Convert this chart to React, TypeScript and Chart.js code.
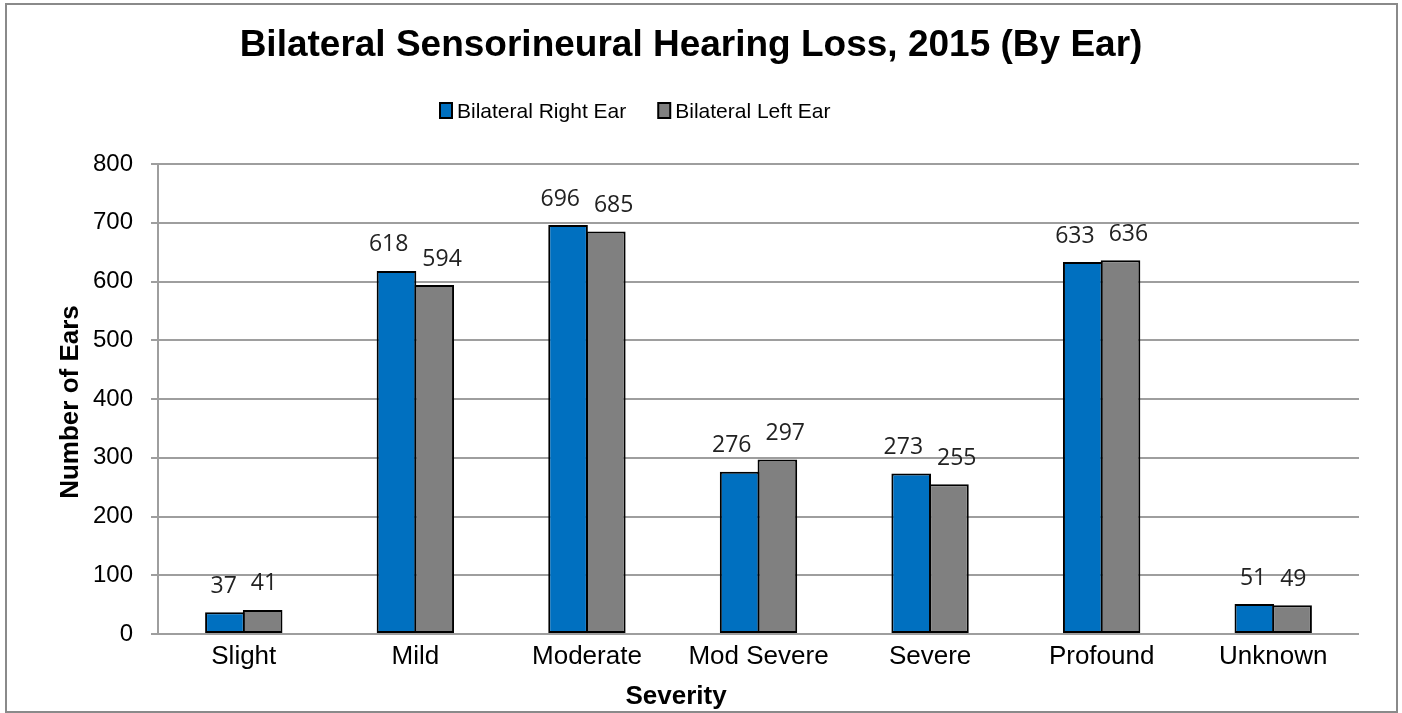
import React, { useEffect, useRef } from "react";
import { Chart, registerables } from "chart.js";

Chart.register(...registerables);

const chartTitle = "Bilateral Sensorineural Hearing Loss, 2015 (By Ear)";
const categories = ["Slight", "Mild", "Moderate", "Mod Severe", "Severe", "Profound", "Unknown"];
const seriesNames = ["Bilateral Right Ear", "Bilateral Left Ear"];
const rightEar = [37, 618, 696, 276, 273, 633, 51];
const leftEar = [41, 594, 685, 297, 255, 636, 49];
const seriesColors = ["#0070C0", "#808080"];
const yMin = 0;
const yMax = 800;
const yStep = 100;
const xTitle = "Severity";
const yTitle = "Number of Ears";

const SANS = "'Liberation Sans', Arial, sans-serif";
const LABEL_FONT = "'Open Sans', 'Noto Sans', sans-serif";

const decorations = {
  id: "decorations",
  afterDraw(chart: any) {
    const ctx = chart.ctx as CanvasRenderingContext2D;
    ctx.save();

    // Data labels, with a simple rule that spreads the two labels of a group apart
    ctx.font = `23px ${LABEL_FONT}`;
    ctx.fillStyle = "#222";
    ctx.textAlign = "center";
    ctx.textBaseline = "middle";
    const metaA = chart.getDatasetMeta(0);
    const metaB = chart.getDatasetMeta(1);
    const dsA = chart.data.datasets[0].data;
    const dsB = chart.data.datasets[1].data;
    const minGap = 14;
    metaA.data.forEach((elA: any, i: number) => {
      const elB = metaB.data[i];
      const tA = String(dsA[i]);
      const tB = String(dsB[i]);
      const wA = ctx.measureText(tA).width;
      const wB = ctx.measureText(tB).width;
      let xA = elA.x;
      let xB = elB.x;
      const gap = xB - wB / 2 - (xA + wA / 2);
      if (gap < minGap) {
        const push = (minGap - gap) / 2;
        xA -= push;
        xB += push;
      }
      ctx.fillText(tA, xA, elA.y - 26);
      ctx.fillText(tB, xB, elB.y - 26);
    });

    // Title
    ctx.font = `bold 37px ${SANS}`;
    ctx.fillStyle = "#000";
    ctx.textAlign = "center";
    ctx.textBaseline = "alphabetic";
    ctx.fillText(chartTitle, 691, 56);

    // Legend
    ctx.font = `21px ${SANS}`;
    ctx.textAlign = "left";
    let x = 440;
    seriesNames.forEach((name, i) => {
      ctx.fillStyle = seriesColors[i];
      ctx.fillRect(x, 103, 12, 15);
      ctx.strokeStyle = "#000";
      ctx.lineWidth = 2;
      ctx.strokeRect(x, 103, 12, 15);
      ctx.fillStyle = "#000";
      ctx.fillText(name, x + 17, 118);
      x += 17 + ctx.measureText(name).width + 32;
    });

    // Axis titles
    ctx.font = `bold 26px ${SANS}`;
    ctx.textAlign = "center";
    ctx.fillText(xTitle, 676, 704);
    ctx.translate(78, 402);
    ctx.rotate(-Math.PI / 2);
    ctx.fillText(yTitle, 0, 0);

    ctx.restore();
  },
};

export default function App() {
  const canvasRef = useRef<HTMLCanvasElement | null>(null);

  useEffect(() => {
    const canvas = canvasRef.current;
    if (!canvas) return;
    const gridColor = "#9e9e9e";
    const chart = new Chart(canvas, {
      type: "bar",
      data: {
        labels: categories,
        datasets: [
          {
            label: seriesNames[0],
            data: rightEar,
            backgroundColor: seriesColors[0],
            borderColor: "#000",
            borderWidth: 2,
            borderSkipped: false,
            categoryPercentage: 0.44,
            barPercentage: 1.05,
          },
          {
            label: seriesNames[1],
            data: leftEar,
            backgroundColor: seriesColors[1],
            borderColor: "#000",
            borderWidth: 2,
            borderSkipped: false,
            categoryPercentage: 0.44,
            barPercentage: 1.05,
          },
        ],
      },
      options: {
        responsive: false,
        animation: false,
        devicePixelRatio: 1,
        layout: { padding: { top: 164, right: 43, bottom: 0, left: 0 } },
        plugins: {
          legend: { display: false },
          title: { display: false },
          tooltip: { enabled: false },
        },
        scales: {
          x: {
            grid: { display: false, drawTicks: false },
            border: { display: false },
            ticks: {
              color: "#000",
              font: { family: SANS, size: 26 },
              padding: 7,
              maxRotation: 0,
              autoSkip: false,
            },
            afterFit: (scale: any) => {
              scale.height = 79;
            },
          },
          y: {
            min: yMin,
            max: yMax,
            ticks: {
              stepSize: yStep,
              color: "#000",
              font: { family: SANS, size: 24 },
              padding: 18,
            },
            grid: {
              color: gridColor,
              lineWidth: 2,
              tickLength: 7,
              tickColor: gridColor,
            },
            border: { display: true, color: gridColor, width: 2 },
            afterFit: (scale: any) => {
              scale.width = 158;
            },
          },
        },
      },
      plugins: [decorations],
    });
    return () => chart.destroy();
  }, []);

  return (
    <div>
      <div
        style={{
          position: "fixed",
          left: 5,
          top: 3,
          width: 1393,
          height: 710,
          border: "2px solid #8a8a8a",
          boxSizing: "border-box",
          background: "#fff",
        }}
      />
      <canvas
        ref={canvasRef}
        width={1402}
        height={713}
        style={{ position: "fixed", left: 0, top: 0, width: 1402, height: 713 }}
      />
    </div>
  );
}
